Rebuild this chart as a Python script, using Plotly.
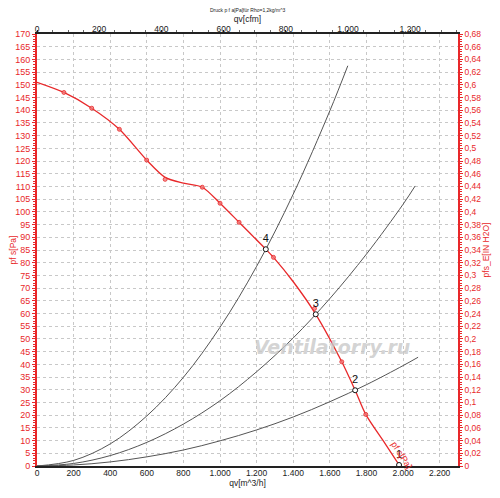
import plotly.graph_objects as go

RED = "#e8282a"
GRAY = "#555555"

# Fan curve pf s [Pa] vs qv [m^3/h]
fan_q = [0, 147, 299, 450, 599, 700, 800, 903, 1000, 1104, 1250, 1292, 1400, 1523, 1665, 1738, 1796, 1900, 1978]
fan_p = [151, 147, 140.8, 132.5, 120.4, 113.6, 111.3, 109.7, 103.4, 95.9, 85.3, 82.1, 72.5, 59.7, 41, 29.8, 20.3, 9.0, 0.4]

# measured points (markers)
meas_q = [147, 299, 450, 599, 700, 903, 1000, 1104, 1292, 1516, 1665, 1796]
meas_p = [147, 140.8, 132.5, 120.4, 112.8, 109.7, 103.4, 95.9, 82.1, 62.0, 41.0, 20.3]

# system curves
sysA_q = [0, 200, 400, 600, 800, 1000, 1200, 1400, 1600, 1698]
sysA_p = [0, 2.2, 8.7, 19.7, 34.9, 54.6, 78.6, 107.0, 139.8, 157.5]
sysB_q = [0, 200, 400, 600, 800, 1000, 1200, 1400, 1600, 1800, 2000, 2066]
sysB_p = [0, 1.0, 4.1, 9.3, 16.5, 25.7, 37.1, 50.4, 65.9, 83.4, 103.0, 110.2]
sysC_q = [0, 200, 400, 600, 800, 1000, 1200, 1400, 1600, 1800, 2000, 2082]
sysC_p = [0, 0.4, 1.6, 3.6, 6.3, 9.9, 14.2, 19.3, 25.3, 32.0, 39.5, 42.8]

# operating points
op_labels = ["4", "3", "2", "1"]
op_q = [1250, 1523, 1738, 1978]
op_p = [85.3, 59.7, 29.8, 0.4]

# ticks
x_ticks = [0, 200, 400, 600, 800, 1000, 1200, 1400, 1600, 1800, 2000, 2200]
x_text = ["0", "200", "400", "600", "800", "1.000", "1.200", "1.400", "1.600", "1.800", "2.000", "2.200"]
cfm_ticks = [0, 200, 400, 600, 800, 1000, 1200]
cfm_text = ["0", "200", "400", "600", "800", "1.000", "1.200"]
y_ticks = list(range(0, 171, 5))
in_ticks = [round(i * 0.02, 2) for i in range(0, 35)]
in_text = [("%g" % v).replace(".", ",") for v in in_ticks]

CFM = 1.699  # m^3/h per cfm
XMAX = 2300
YMAX = 170

fig = go.Figure()
for q, p in [(sysA_q, sysA_p), (sysB_q, sysB_p), (sysC_q, sysC_p)]:
    fig.add_trace(go.Scatter(x=q, y=p, mode="lines", line=dict(color=GRAY, width=1, shape="spline"),
                             hoverinfo="skip", showlegend=False))
fig.add_trace(go.Scatter(x=fan_q, y=fan_p, mode="lines", line=dict(color=RED, width=1.3, shape="spline", smoothing=0.8),
                         showlegend=False))
fig.add_trace(go.Scatter(x=meas_q, y=meas_p, mode="markers",
                         marker=dict(color="rgba(240,120,120,0.8)", size=4, line=dict(color=RED, width=0.8)),
                         showlegend=False))
fig.add_trace(go.Scatter(x=op_q, y=op_p, mode="markers+text", text=op_labels, textposition="top center",
                         textfont=dict(color="#111", size=11, family="Liberation Sans"),
                         marker=dict(color="white", size=5, line=dict(color="#111", width=1)),
                         showlegend=False))
# invisible trace to activate secondary axes
fig.add_trace(go.Scatter(x=[0], y=[0], xaxis="x2", yaxis="y2", mode="markers",
                         marker=dict(opacity=0), showlegend=False, hoverinfo="skip"))

font = dict(family="Liberation Sans, Arial, sans-serif", size=9)
fig.update_layout(
    width=500, height=498,
    margin=dict(l=29, r=50, t=26, b=40),
    plot_bgcolor="white", paper_bgcolor="white",
    font=font,
    showlegend=False,
    xaxis=dict(range=[0, XMAX], tickvals=x_ticks, ticktext=x_text, showgrid=True, automargin=False,
               gridcolor="#c8c8c8", griddash="dot", gridwidth=1,
               showline=True, linecolor="#222", linewidth=1.5, zeroline=False,
               ticks="", ticklabelstandoff=-2, tickfont=dict(color="#222", size=8.5),
               title=dict(text="qv[m^3/h]", font=dict(size=8.5, color="#222"), standoff=0)),
    xaxis2=dict(range=[0, XMAX / CFM], overlaying="x", side="top", tickvals=cfm_ticks, ticktext=cfm_text,
                showgrid=False, showline=True, linecolor="#222", linewidth=2, zeroline=False, automargin=False,
                ticks="outside", ticklen=2, tickcolor="#222", ticklabelstandoff=-5,
                minor=dict(dtick=50, ticks="outside", ticklen=2, tickcolor="#666"),
                tickfont=dict(color="#222", size=8.5),
                title=dict(text="qv[cfm]", font=dict(size=8.5, color="#222"), standoff=0)),
    yaxis=dict(range=[0, YMAX], tickvals=y_ticks, showgrid=True, gridcolor="#c8c8c8", griddash="dot",
               showline=True, linecolor=RED, linewidth=2, zeroline=False, automargin=False,
               ticks="outside", ticklen=3, tickcolor=RED,
               minor=dict(dtick=1, ticks="outside", ticklen=2, tickcolor=RED),
               tickfont=dict(color=RED, size=9),
               title=dict(text="pf s[Pa]", font=dict(size=8.5, color=RED), standoff=0)),
    yaxis2=dict(range=[0, 0.68], overlaying="y", side="right", tickvals=in_ticks, ticktext=in_text,
                showgrid=False, showline=True, linecolor=RED, linewidth=1.5, zeroline=False, automargin=False,
                ticks="outside", ticklen=3, tickcolor=RED,
                minor=dict(dtick=0.004, ticks="outside", ticklen=2, tickcolor=RED),
                tickfont=dict(color=RED, size=8.5),
                title=dict(text="pfs_E[IN H2O]", font=dict(size=8.5, color=RED), standoff=0)),
    annotations=[
        dict(text="Druck p f a[Pa]für Rho=1,2kg/m^3", xref="paper", yref="paper", x=0.5, y=1.0,
             yshift=29, showarrow=False, font=dict(size=5, color="#222")),
        dict(text="<b>Ventilatorry.ru</b>", xref="x", yref="y", x=1612, y=47, showarrow=False,
             font=dict(size=19, color="rgba(200,200,200,0.8)", family="DejaVu Sans", style="italic")),
        dict(text="pf s[Pa]", xref="x", yref="y", x=1990, y=4.2, showarrow=False, textangle=57,
             font=dict(size=9, color=RED)),
    ],
)

fig.write_html("out.html")
